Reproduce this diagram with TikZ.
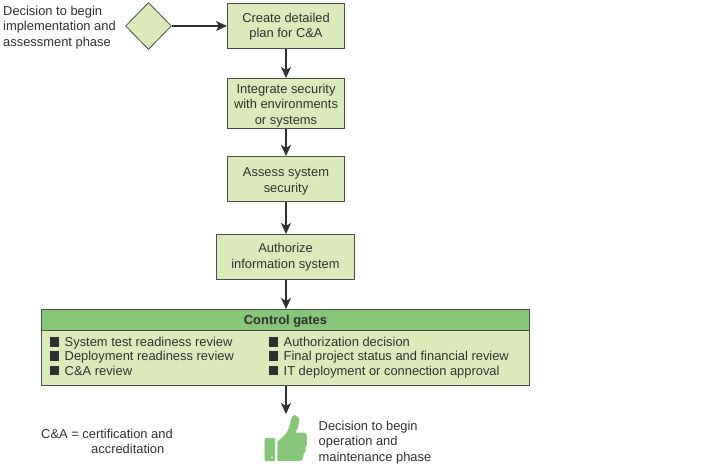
\documentclass[tikz,border=0pt]{standalone}
\usepackage{fontspec}
\setmainfont{Liberation Sans}
\usetikzlibrary{shapes.geometric,arrows.meta}
\definecolor{paleg}{HTML}{DCE9B9}
\definecolor{midg}{HTML}{86C678}
\definecolor{edgec}{HTML}{4A4F48}
\definecolor{inkc}{HTML}{2F3130}
\newcommand{\topgap}[1]{\rule{0pt}{#1pt}}
\tikzset{
 x=1pt,y=-1pt,
 txt/.style={font=\fontsize{12.9}{15.6}\selectfont,text=inkc,inner sep=0pt},
 lbl/.style={txt,align=left,anchor=north west},
 stepbox/.style={txt,draw=edgec,line width=1pt,fill=paleg,align=center,inner sep=0pt},
 flow/.style={draw=inkc,line width=1.5pt,-{Stealth[length=11pt,width=10pt,inset=3pt]}},
 sq/.style={fill=inkc,minimum size=9.5pt,inner sep=0pt},
}
\begin{document}
\begin{tikzpicture}
\useasboundingbox (0,0) rectangle (721,465);
\node[stepbox,minimum width=117pt,minimum height=45pt] (b1) at (286,26) {\topgap{10.8}Create detailed\\plan for C\&A};
\node[stepbox,minimum width=117pt,minimum height=50pt] (b2) at (286,103.5) {\topgap{13.4}Integrate security\\with environments\\or systems};
\node[stepbox,minimum width=117pt,minimum height=45pt] (b3) at (286,179) {\topgap{13.4}Assess system\\security};
\node[stepbox,minimum width=138pt,minimum height=45pt] (b4) at (285.5,257) {Authorize\\information system};
\node[diamond,aspect=1,draw=edgec,line width=.8pt,fill=paleg,minimum width=46pt,minimum height=47pt,inner sep=0pt] (d) at (148.5,26) {};
\node[draw=edgec,line width=1pt,fill=paleg,minimum width=488pt,minimum height=76pt,inner sep=0pt] (g) at (285.5,347.5) {};
\node[stepbox,fill=midg,minimum width=488pt,minimum height=21pt,font=\fontsize{12.9}{15.6}\selectfont\bfseries] (h) at (285.5,320) {\topgap{12.7}Control gates};
\node[lbl] (t1) at (3,5.5) {Decision to begin\\implementation and\\assessment phase};
\node[lbl] (t2) at (318.5,420.5) {Decision to begin\\operation and\\maintenance phase};
\node[lbl] (t3) at (41,428.5) {C\&A = certification and};
\node[lbl] (t4) at (91,444) {accreditation};
\foreach \n/\yy/\s in {a/342/System test readiness review,b/356/Deployment readiness review,c/370.5/C\&A review}{
 \node[sq] (s\n) at (54.5,\yy) {};
 \node[txt,anchor=base west] (l\n) at (64.5,\yy+4.6) {\s};
}
\foreach \n/\yy/\s in {d/342/Authorization decision,e/356/Final project status and financial review,f/370.5/IT deployment or connection approval}{
 \node[sq] (s\n) at (273.5,\yy) {};
 \node[txt,anchor=base west] (l\n) at (283.5,\yy+4.6) {\s};
}
\coordinate (thumbtop) at (286,414);
\draw[flow] (d.east) -- (b1.west);
\draw[flow] (b1) -- (b2);
\draw[flow] (b2) -- (b3);
\draw[flow] (b3) -- (b3 |- b4.north);
\draw[flow] (b3 |- b4.south) -- (b3 |- h.north);
\draw[flow] (b3 |- g.south) -- (thumbtop);
% thumbs-up icon
\fill[midg,rounded corners=.8pt] (264.7,438) rectangle (275,461);
\fill[white] (272,457.5) circle (.9);
\fill[midg] (277.4,461) -- (277.4,441.7) -- (285,435)
 .. controls (288.5,431) and (290,425) .. (290.7,420)
 .. controls (291,417) and (293,415) .. (295,415)
 .. controls (298,415.5) and (299.5,418.5) .. (299,422)
 .. controls (298.5,426) and (297.5,429.5) .. (295.5,432.7)
 -- (304,432.7) .. controls (307,433) and (307.5,437) .. (306.5,440)
 .. controls (307.5,442) and (307,446) .. (305.5,447)
 .. controls (306.5,449.5) and (305.5,453) .. (303.5,454.5)
 .. controls (304,457.5) and (302.5,461) .. (299.5,461) -- cycle;
\end{tikzpicture}
\end{document}
